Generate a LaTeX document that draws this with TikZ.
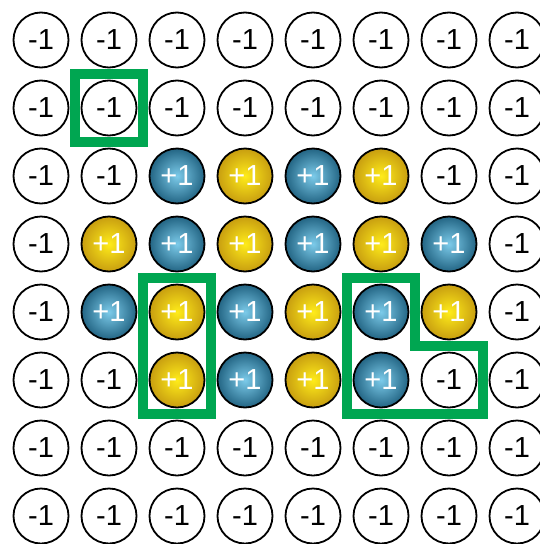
\documentclass[tikz,border=0pt]{standalone}
\usepackage{fontspec}
\setmainfont{Liberation Sans}
\usepackage{xcolor}
\usetikzlibrary{calc}
\definecolor{bluein}{HTML}{7CCBEA}
\definecolor{blueout}{HTML}{236584}
\definecolor{yellowin}{HTML}{FFEC1A}
\definecolor{yellowout}{HTML}{C89E10}
\definecolor{boxgreen}{HTML}{00A651}
\tikzset{
  spin/.style={circle, draw=black, line width=1.8pt, minimum size=55pt, inner sep=0pt, font=\fontsize{29}{29}\selectfont},
  spindn/.style={spin, fill=white, text=black, node contents={-1}},
  spinb/.style={spin, shading=radial, inner color=bluein, outer color=blueout, text=white, node contents={+1}},
  spiny/.style={spin, shading=radial, inner color=yellowin, outer color=yellowout, text=white, node contents={+1}},
  clusterbox/.style={draw=boxgreen, line width=9.5pt, line join=miter}
}

\begin{document}
\begin{tikzpicture}[x=1pt, y=-1pt]
\path[use as bounding box, clip] (0,0) rectangle (540,544);
% lattice of spins
\foreach \row/\states in {
  0/{spindn,spindn,spindn,spindn,spindn,spindn,spindn,spindn},
  1/{spindn,spindn,spindn,spindn,spindn,spindn,spindn,spindn},
  2/{spindn,spindn,spinb,spiny,spinb,spiny,spindn,spindn},
  3/{spindn,spiny,spinb,spiny,spinb,spiny,spinb,spindn},
  4/{spindn,spinb,spiny,spinb,spiny,spinb,spiny,spindn},
  5/{spindn,spindn,spiny,spinb,spiny,spinb,spindn,spindn},
  6/{spindn,spindn,spindn,spindn,spindn,spindn,spindn,spindn},
  7/{spindn,spindn,spindn,spindn,spindn,spindn,spindn,spindn}}{
  \foreach \s [count=\col from 0] in \states {
    \node (c-\row-\col) at (41+68*\col, 40+68*\row) [\s];
  }
}
% clusters
\draw[clusterbox] ($(c-1-1)+(-34,-34)$) rectangle ($(c-1-1)+(34,34)$);
\draw[clusterbox] ($(c-4-2)+(-34,-34)$) rectangle ($(c-5-2)+(34,34)$);
\draw[clusterbox] ($(c-4-5)+(-34,-34)$) -- ($(c-4-5)+(34,-34)$) -- ($(c-4-5)+(34,34)$)
  -- ($(c-5-6)+(34,-34)$) -- ($(c-5-6)+(34,34)$) -- ($(c-5-5)+(-34,34)$) -- cycle;
\end{tikzpicture}
\end{document}
